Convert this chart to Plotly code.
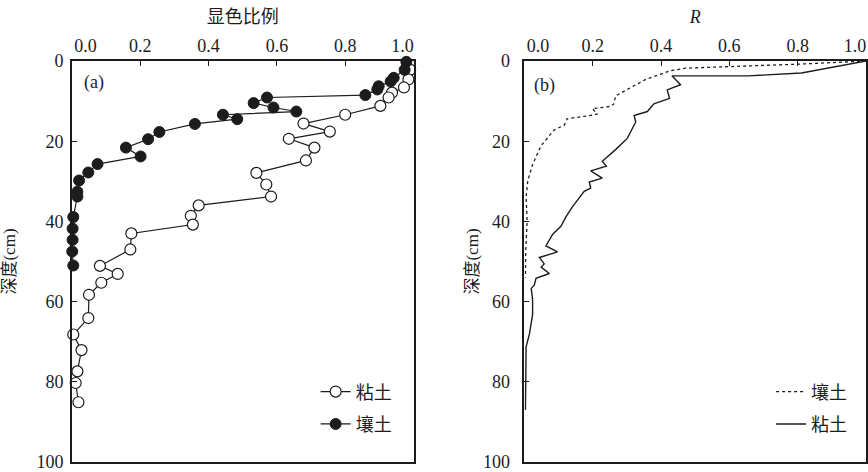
import plotly.graph_objects as go

# ---------------- data ----------------
# Panel (a): 显色比例 vs depth
clay_a_ratio = [1.01, 0.99, 0.985, 0.972, 0.937, 0.927, 0.903, 0.800, 0.678, 0.755, 0.635,
                0.710, 0.685, 0.540, 0.569, 0.583, 0.371, 0.348, 0.354, 0.174, 0.171, 0.082,
                0.134, 0.086, 0.050, 0.048, 0.004, 0.028, 0.016, 0.011, 0.019]
clay_a_depth = [0.0, 2.2, 4.6, 6.6, 7.9, 9.1, 11.2, 13.4, 15.6, 17.6, 19.4, 21.6, 24.8, 27.9,
                30.8, 33.8, 36.0, 38.6, 40.8, 43.0, 47.0, 51.1, 53.1, 55.3, 58.3, 64.1, 68.2,
                72.1, 77.4, 80.3, 85.1]

loam_a_ratio = [0.979, 0.974, 0.942, 0.933, 0.898, 0.894, 0.859, 0.571, 0.532, 0.590, 0.657,
                0.442, 0.484, 0.360, 0.256, 0.223, 0.158, 0.201, 0.075, 0.048, 0.021, 0.016,
                0.016, 0.004, 0.002, 0.002, 0.001, 0.004]
loam_a_depth = [0.2, 2.2, 4.2, 5.1, 6.3, 7.1, 8.5, 9.1, 10.5, 11.6, 12.6, 13.4, 14.5, 15.7,
                17.7, 19.5, 21.6, 23.8, 25.7, 27.8, 29.8, 32.6, 33.8, 38.9, 41.8, 44.6, 47.5, 51.0]

# Panel (b): R vs depth
loam_b_r = [1.0, 0.80, 0.598, 0.471, 0.428, 0.384, 0.355, 0.267, 0.262, 0.253, 0.199, 0.214,
            0.200, 0.125, 0.117, 0.087, 0.049, 0.024, 0.010, 0.005, 0.008, 0.004, 0.003]
loam_b_depth = [0.0, 0.8, 1.4, 1.8, 2.4, 3.8, 4.6, 8.7, 10.7, 11.3, 11.9, 13.2, 13.5, 14.4,
                16.0, 17.2, 21.1, 25.8, 29.8, 33.9, 40.0, 47.0, 54.0]

clay_b_r = [1.0, 0.811, 0.656, 0.432, 0.457, 0.418, 0.425, 0.379, 0.360, 0.321, 0.326, 0.301,
            0.267, 0.228, 0.240, 0.194, 0.228, 0.190, 0.194, 0.175, 0.160, 0.141, 0.122, 0.107,
            0.083, 0.063, 0.097, 0.044, 0.058, 0.049, 0.073, 0.034, 0.029, 0.020, 0.024, 0.024,
            0.015, 0.005, 0.004, 0.003]
clay_b_depth = [0.0, 3.0, 3.7, 3.7, 5.9, 7.2, 9.3, 10.7, 12.6, 13.6, 15.2, 19.3, 22.1, 25.0,
                26.2, 27.4, 29.2, 30.2, 31.7, 32.5, 34.2, 36.3, 38.8, 41.2, 43.2, 46.1, 47.6,
                49.0, 50.6, 51.4, 53.0, 54.2, 55.9, 56.7, 59.5, 63.2, 68.0, 71.3, 80.0, 87.0]

x_tick_vals = [0.0, 0.2, 0.4, 0.6, 0.8, 1.0]
x_tick_text = ["0.0", "0.2", "0.4", "0.6", "0.8", "1.0"]
y_tick_vals = [0, 20, 40, 60, 80, 100]
y_tick_text = ["0", "20", "40", "60", "80", "100"]

# ---------------- style ----------------
INK = "#1c1c1c"
SERIF = "'Liberation Serif', 'Times New Roman', 'DejaVu Serif', 'Noto Sans CJK SC', serif"
TICKFONT = dict(family=SERIF, size=18, color=INK)
TITLEFONT = dict(family=SERIF, size=18, color=INK)
W, H = 868, 472

# end tick labels are nudged inward as in the original typesetting
def label_positions(vals):
    nudge = {0.0: 0.04, 1.0: -0.032}
    return [v + nudge.get(v, 0.0) for v in vals]

inner_ticks = [v for v in x_tick_vals if 0.0 < v < 1.0]

fig = go.Figure()

line_style = dict(color=INK, width=1.2)
fig.add_trace(go.Scatter(
    x=clay_a_ratio, y=clay_a_depth, mode="lines+markers", name="粘土", legendgroup="a1",
    line=line_style, marker=dict(symbol="circle", size=11, color="white",
                                 line=dict(color=INK, width=1.2)),
    xaxis="x", yaxis="y", legend="legend", cliponaxis=False))
fig.add_trace(go.Scatter(
    x=loam_a_ratio, y=loam_a_depth, mode="lines+markers", name="壤土", legendgroup="a2",
    line=line_style, marker=dict(symbol="circle", size=11, color=INK,
                                 line=dict(color=INK, width=1)),
    xaxis="x", yaxis="y", legend="legend", cliponaxis=False))
fig.add_trace(go.Scatter(
    x=loam_b_r, y=loam_b_depth, mode="lines", name="壤土", legendgroup="b1",
    line=dict(color=INK, width=1.3, dash="dot"),
    xaxis="x2", yaxis="y2", legend="legend2"))
fig.add_trace(go.Scatter(
    x=clay_b_r, y=clay_b_depth, mode="lines", name="粘土", legendgroup="b2",
    line=dict(color=INK, width=1.4),
    xaxis="x2", yaxis="y2", legend="legend2"))
# placeholders so the label axes render
fig.add_trace(go.Scatter(x=[None], y=[None], xaxis="x3", yaxis="y", showlegend=False, hoverinfo="skip"))
fig.add_trace(go.Scatter(x=[None], y=[None], xaxis="x4", yaxis="y2", showlegend=False, hoverinfo="skip"))

dom_a = [72 / W, 414 / W]
dom_b = [525 / W, 867 / W]

frame = dict(showline=True, mirror=True, linecolor=INK, linewidth=1.5,
             showgrid=False, zeroline=False)

def xmain(domain, anchor):
    return dict(domain=domain, anchor=anchor, range=[0, 1], side="top",
                tickmode="array", tickvals=inner_ticks, ticks="inside", ticklen=5,
                tickcolor=INK, tickwidth=1.2, showticklabels=False, **frame)

def xlabels(over, anchor, title):
    return dict(overlaying=over, anchor=anchor, range=[0, 1], side="top",
                tickmode="array", tickvals=label_positions(x_tick_vals), ticktext=x_tick_text,
                ticks="", showline=False, showgrid=False, zeroline=False,
                tickfont=TICKFONT, ticklabelstandoff=4, ticklabeloverflow="allow",
                title=dict(text=title, font=TITLEFONT, standoff=8))

def ymain(anchor, standoff, title_standoff):
    return dict(domain=[0, 1], anchor=anchor, range=[100, 0], autorange=False,
                tickmode="array", tickvals=y_tick_vals, ticktext=y_tick_text,
                ticks="inside", ticklen=5, tickcolor=INK, tickwidth=1.2,
                tickfont=TICKFONT, ticklabelstandoff=standoff, ticklabeloverflow="allow",
                title=dict(text="深度(cm)", font=dict(family=SERIF, size=17, color=INK),
                           standoff=title_standoff),
                **frame)

legend_common = dict(bgcolor="rgba(0,0,0,0)", font=dict(family=SERIF, size=18, color=INK),
                     xanchor="left", yanchor="middle", tracegroupgap=6, itemwidth=30,
                     traceorder="grouped")

fig.update_layout(
    width=W, height=H,
    margin=dict(l=0, r=0, t=61, b=4),
    paper_bgcolor="white", plot_bgcolor="white",
    xaxis=xmain(dom_a, "y"),
    xaxis2=xmain(dom_b, "y2"),
    xaxis3=xlabels("x", "y", "显色比例"),
    xaxis4=xlabels("x2", "y2", "<i>R</i>"),
    yaxis=ymain("x", 3, 22),
    yaxis2=ymain("x2", 9, 0),
    legend=dict(x=316 / W, y=0.135, **legend_common),
    legend2=dict(x=772 / W, y=0.135, **legend_common),
    annotations=[
        dict(text="(a)", xref="x domain", yref="y domain", x=0.03, y=0.978,
             xanchor="left", yanchor="top", showarrow=False, font=TICKFONT),
        dict(text="(b)", xref="x2 domain", yref="y2 domain", x=0.023, y=0.97,
             xanchor="left", yanchor="top", showarrow=False, font=TICKFONT),
    ],
)

fig.write_html("out.html", config={"displayModeBar": False},
               post_script="document.body.style.margin='0';document.body.style.overflow='hidden';")
